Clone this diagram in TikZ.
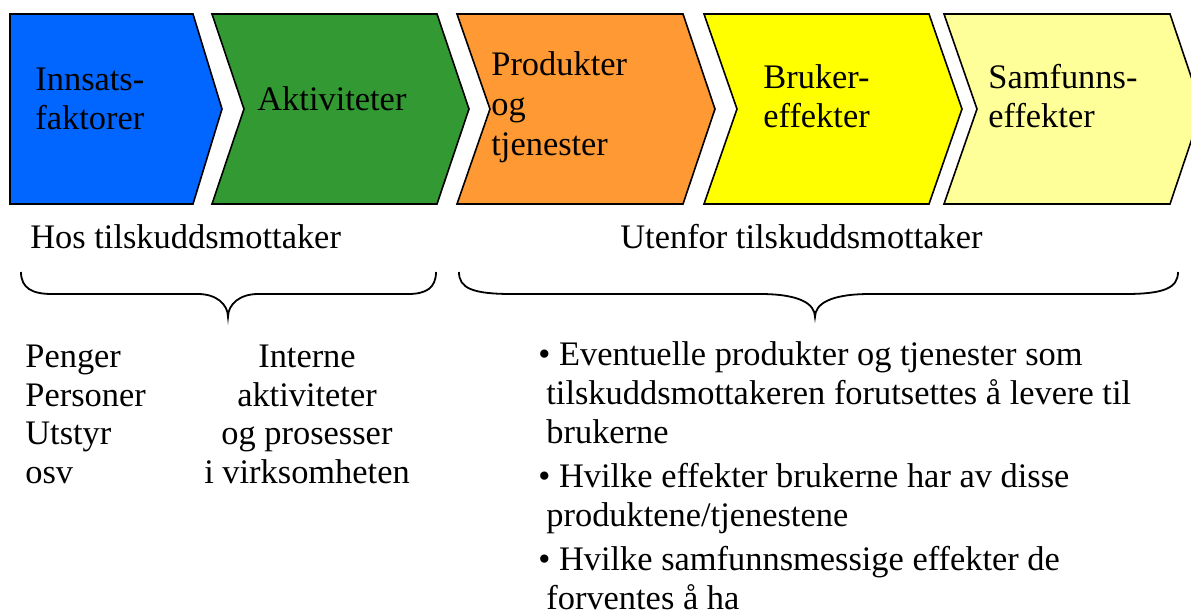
\documentclass[tikz,border=0pt]{standalone}
\usepackage{fontspec}
\setmainfont{Liberation Serif}
\usepackage{tikz}
\usetikzlibrary{positioning}
\definecolor{innblue}{RGB}{0,102,255}
\definecolor{aktgreen}{RGB}{51,153,51}
\definecolor{prodorange}{RGB}{255,153,51}
\definecolor{brukyellow}{RGB}{255,255,0}
\definecolor{samfyellow}{RGB}{255,255,153}

\begin{document}
\begin{tikzpicture}[x=0.5pt,y=-0.5pt,line join=miter,
                    chev/.style={draw=black,line width=0.8pt},
                    brace/.style={draw=black,line width=0.9pt},
                    txt/.style={inner sep=0pt,anchor=base west,align=left,
                                font=\fontsize{17.2}{19.5}\selectfont}]

  \useasboundingbox (0,0) rectangle (1191,612);

  % chevrons
  \filldraw[chev,fill=innblue] (10,14) -- (193,14) -- (222,109) -- (193,204) -- (10,204) -- cycle;
  \filldraw[chev,fill=aktgreen] (212,14) -- (437,14) -- (469,109) -- (437,204) -- (212,204) -- (244,109) -- cycle;
  \filldraw[chev,fill=prodorange] (457,14) -- (683,14) -- (715,109) -- (683,204) -- (457,204) -- (490,109) -- cycle;
  \filldraw[chev,fill=brukyellow] (704,14) -- (929,14) -- (962,109) -- (929,204) -- (704,204) -- (737,109) -- cycle;
  \filldraw[chev,fill=samfyellow] (944,14) -- (1170,14) -- (1202,109) -- (1170,204) -- (944,204) -- (977,109) -- cycle;

  % base of a node = baseline of its last line
  \node[txt] (innsats) at (35,129) {Innsats-\\faktorer};
  \node[txt] (aktiv) at (257,110) {Aktiviteter};
  \node[txt,font=\fontsize{17.2}{20}\selectfont] (prod) at (491,155) {Produkter\\og\\tjenester};
  \node[txt] (bruker) at (763,127) {Bruker-\\effekter};
  \node[txt] (samfunn) at (988,127) {Samfunns-\\effekter};

  \node[txt] (hos) at (30,248) {Hos tilskuddsmottaker};
  \node[txt] (utenfor) at (620,248) {Utenfor tilskuddsmottaker};

  % braces
  \draw[brace] (21,272) .. controls (21,288) and (32,294) .. (52,294) -- (198,294)
     .. controls (216,294) and (228,304) .. (228,317)
     .. controls (228,304) and (240,294) .. (258,294) -- (408,294)
     .. controls (426,294) and (436,288) .. (436,272);
  \draw[brace] (459,272) .. controls (459,288) and (472,294) .. (512,294) -- (760,294)
     .. controls (800,294) and (815,304) .. (815,317)
     .. controls (815,304) and (830,294) .. (870,294) -- (1125,294)
     .. controls (1164,294) and (1178,288) .. (1178,272);

  \node[txt,font=\fontsize{17.2}{19.25}\selectfont] (ressurser) at (25,483)
       {Penger\\Personer\\Utstyr\\osv};
  \node[txt,anchor=base,align=center,font=\fontsize{17.2}{19.25}\selectfont] (interne) at (307,483)
       {Interne\\aktiviteter\\og prosesser\\i virksomheten};
  \node[txt] (punkter) at (538,609)
       {\textbullet\ Eventuelle produkter og tjenester som\\
        \hspace*{4pt}tilskuddsmottakeren forutsettes å levere til\\
        \hspace*{4pt}brukerne\\[2.5pt]
        \textbullet\ Hvilke effekter brukerne har av disse\\
        \hspace*{4pt}produktene/tjenestene\\[2.5pt]
        \textbullet\ Hvilke samfunnsmessige effekter de\\
        \hspace*{4pt}forventes å ha};
\end{tikzpicture}
\end{document}
